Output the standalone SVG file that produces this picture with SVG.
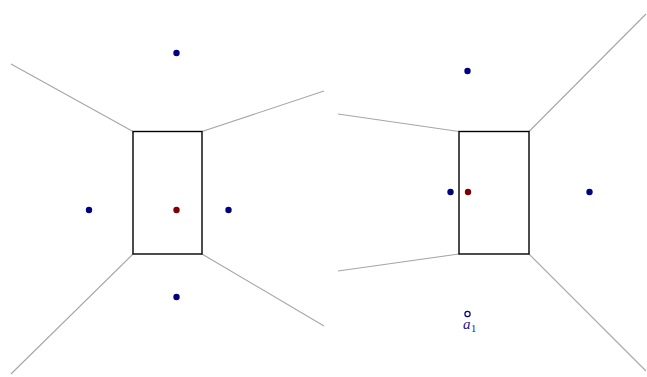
<svg xmlns="http://www.w3.org/2000/svg" width="647" height="377" viewBox="0 0 647 377">
<style>
.e{stroke:#a6a6a6;stroke-width:1.1;fill:none}
.r{fill:white;stroke:#000;stroke-width:1.4}
.b{fill:#000080}
.m{fill:#800000}
.t{font-family:"Liberation Serif",serif;font-style:italic;font-size:15px;fill:#1a1a8a}
.s{font-family:"Liberation Serif",serif;font-size:10.5px;fill:#1a1a8a}
</style>
<rect width="647" height="377" fill="white"/>
<g id="connectors">
<line class="e" x1="11" y1="64" x2="133" y2="131.5"/>
<line class="e" x1="202" y1="131.5" x2="324" y2="91"/>
<line class="e" x1="133" y1="254" x2="11" y2="374"/>
<line class="e" x1="202" y1="254" x2="324" y2="326"/>
<line class="e" x1="338" y1="114" x2="459" y2="131.5"/>
<line class="e" x1="529" y1="131.5" x2="646" y2="14"/>
<line class="e" x1="459" y1="254" x2="338" y2="271"/>
<line class="e" x1="529" y1="254" x2="646" y2="371"/>
</g>
<g id="rect-left"><rect class="r" x="133" y="131.5" width="69" height="122.5"/></g>
<g id="rect-right"><rect class="r" x="459" y="131.5" width="70" height="122.5"/></g>
<g id="points-left">
<circle class="b" cx="176.5" cy="53" r="3.2"/>
<circle class="b" cx="89" cy="210" r="3.2"/>
<circle class="m" cx="176.5" cy="210" r="3.2"/>
<circle class="b" cx="228.5" cy="210" r="3.2"/>
<circle class="b" cx="176.5" cy="297" r="3.2"/>
</g>
<g id="points-right">
<circle class="b" cx="467.5" cy="71" r="3.2"/>
<circle class="b" cx="450.5" cy="192" r="3.2"/>
<circle class="m" cx="468" cy="192" r="3.2"/>
<circle class="b" cx="589.5" cy="192" r="3.2"/>
</g>
<g id="a1">
<circle cx="467.5" cy="314" r="2.6" fill="white" stroke="#000080" stroke-width="1.2"/>
<text class="t" x="463" y="329">a</text><text class="s" x="471" y="331.5">1</text>
</g>
</svg>
